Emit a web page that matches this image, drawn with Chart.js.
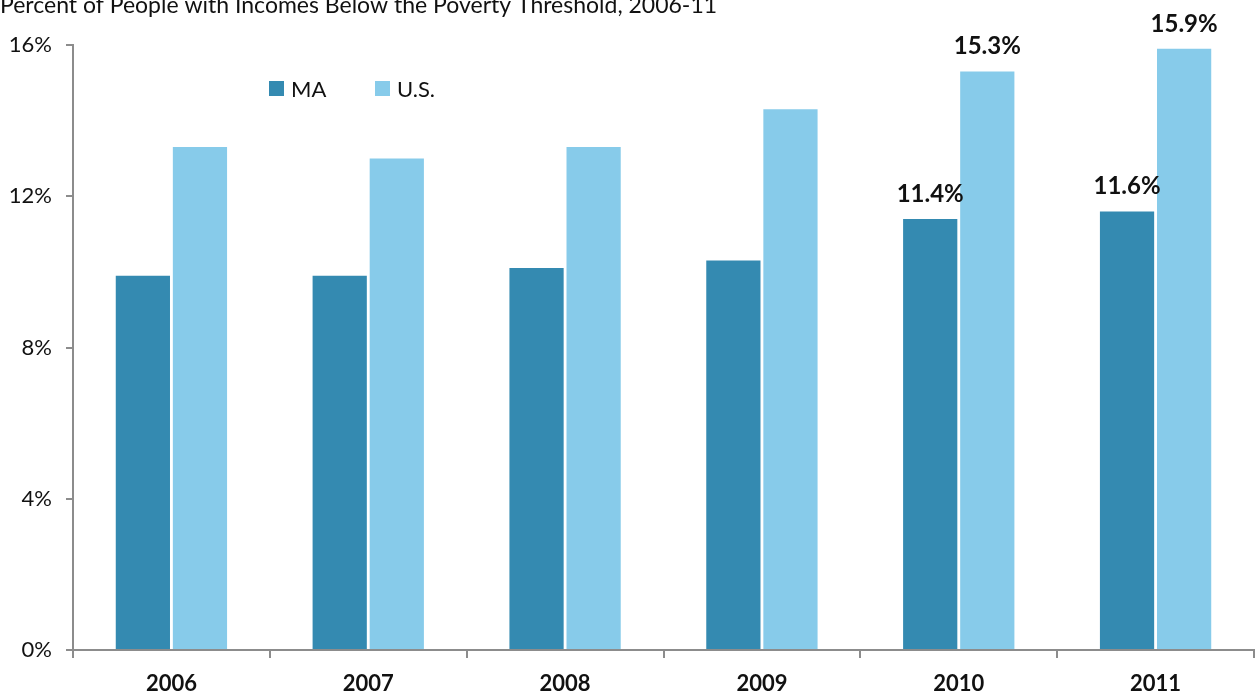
<!DOCTYPE html>
<html>
<head>
<meta charset="utf-8">
<script src="https://cdn.jsdelivr.net/npm/chart.js@4.4.0/dist/chart.umd.min.js"></script>
<style>
html,body{margin:0;padding:0;background:#fff;}
#wrap{width:1255px;height:696px;position:relative;}
</style>
</head>
<body>
<div id="wrap"><canvas id="c" width="1255" height="696"></canvas></div>
<script>
const titleText = "Percent of People with Incomes Below the Poverty Threshold, 2006-11";
const years = ["2006","2007","2008","2009","2010","2011"];
const maValues = [9.9, 9.9, 10.1, 10.3, 11.4, 11.6];
const usValues = [13.3, 13.0, 13.3, 14.3, 15.3, 15.9];
const yTicks = [0, 4, 8, 12, 16];
const labeledYears = ["2010","2011"];

const FONT = "Lato, 'Open Sans', sans-serif";
const MA_COLOR = "#348AB1";
const US_COLOR = "#87CBEA";
const AXIS_COLOR = "#8c8c8c";

const overlay = {
  id: "overlay",
  afterDraw(chart) {
    const ctx = chart.ctx;
    ctx.save();
    // title
    ctx.fillStyle = "#111";
    ctx.font = "23px " + FONT;
    ctx.textAlign = "left";
    ctx.textBaseline = "alphabetic";
    ctx.fillText(titleText, 0, 13);
    // legend
    ctx.font = "22px " + FONT;
    const legendItems = [
      {x: 269, color: MA_COLOR, text: chart.data.datasets[0].label},
      {x: 375, color: US_COLOR, text: chart.data.datasets[1].label}
    ];
    legendItems.forEach(it => {
      ctx.fillStyle = it.color;
      ctx.fillRect(it.x, 81, 15, 15);
      ctx.fillStyle = "#111";
      ctx.fillText(it.text, it.x + 22, 97);
    });
    // data labels
    ctx.font = "bold 24px " + FONT;
    ctx.textAlign = "center";
    ctx.fillStyle = "#111";
    chart.data.datasets.forEach((ds, di) => {
      const meta = chart.getDatasetMeta(di);
      meta.data.forEach((bar, i) => {
        if (!labeledYears.includes(chart.data.labels[i])) return;
        ctx.fillText(ds.data[i].toFixed(1) + "%", bar.x, bar.y - 17);
      });
    });
    ctx.restore();
  }
};

new Chart(document.getElementById("c"), {
  type: "bar",
  data: {
    labels: years,
    datasets: [
      {label: "MA", data: maValues, backgroundColor: MA_COLOR, borderWidth: 0},
      {label: "U.S.", data: usValues, backgroundColor: US_COLOR, borderWidth: 0}
    ]
  },
  options: {
    responsive: false,
    animation: false,
    devicePixelRatio: 1,
    layout: {padding: {top: 45, right: 1, left: 0, bottom: 0}},
    categoryPercentage: 0.58,
    barPercentage: 0.95,
    plugins: {legend: {display: false}, title: {display: false}, tooltip: {enabled: false}},
    scales: {
      x: {
        grid: {offset: true, drawOnChartArea: false, tickLength: 8, color: AXIS_COLOR, lineWidth: 2},
        border: {color: AXIS_COLOR, width: 2},
        ticks: {color: "#111", font: {family: FONT, size: 22, weight: "bold"}, padding: 13},
        afterFit(s) { s.height = 46; }
      },
      y: {
        min: 0, max: 16,
        afterBuildTicks(s) { s.ticks = yTicks.map(v => ({value: v})); },
        grid: {drawOnChartArea: false, tickLength: 7, color: AXIS_COLOR, lineWidth: 2},
        border: {color: AXIS_COLOR, width: 2},
        ticks: {color: "#111", font: {family: FONT, size: 22}, padding: 14, callback: v => v + "%"},
        afterFit(s) { s.width = 73; }
      }
    }
  },
  plugins: [overlay]
});
</script>
</body>
</html>
